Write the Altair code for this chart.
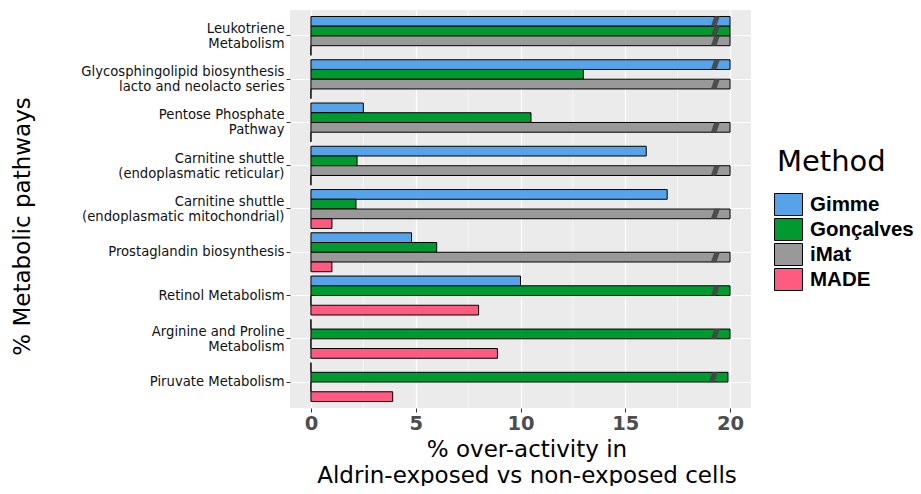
import altair as alt
import pandas as pd

pathways = [
    "Leukotriene|Metabolism",
    "Glycosphingolipid biosynthesis|lacto and neolacto series",
    "Pentose Phosphate|Pathway",
    "Carnitine shuttle|(endoplasmatic reticular)",
    "Carnitine shuttle|(endoplasmatic mitochondrial)",
    "Prostaglandin biosynthesis",
    "Retinol Metabolism",
    "Arginine and Proline|Metabolism",
    "Piruvate Metabolism",
]
methods = ["Gimme", "Gonçalves", "iMat", "MADE"]
colors = ["#56a3e9", "#009a31", "#999999", "#ff5a80"]

gimme = [20, 20, 2.5, 16, 17, 4.8, 10, 0, 0]
goncalves = [20, 13, 10.5, 2.2, 2.15, 6, 20, 20, 19.9]
imat = [20, 20, 20, 20, 20, 20, 0, 0, 0]
made = [0, 0, 0, 0, 1, 1, 8, 8.9, 3.9]

x_ticks = [0, 5, 10, 15, 20]
x_minor = [2.5, 7.5, 12.5, 17.5]

rows = []
for m, vals in zip(methods, [gimme, goncalves, imat, made]):
    for p, v in zip(pathways, vals):
        rows.append({"pathway": p, "method": m, "value": v})
df = pd.DataFrame(rows)
minor_df = pd.DataFrame({"m": x_minor})

xscale = alt.Scale(domain=[-1, 21], nice=False, zero=False)
xtitle = ["% over-activity in", "Aldrin-exposed vs non-exposed cells"]

minor = alt.Chart(minor_df).mark_rule(color="white", strokeWidth=0.6).encode(
    x=alt.X("m:Q", scale=xscale, title=xtitle)
)

yenc = alt.Y(
    "pathway:N",
    sort=pathways,
    scale=alt.Scale(paddingInner=0.1, paddingOuter=0.15),
    axis=alt.Axis(
        title="% Metabolic pathways",
        labelExpr="split(datum.label, '|')",
        labelFont="DejaVu Sans",
        labelFontSize=13.2,
        labelLineHeight=15,
        labelColor="#111111",
        labelLimit=400,
        labelPadding=2,
        labelOffset={
            "condition": {"test": "indexof(datum.value, '|') >= 0", "value": -7},
            "value": 0,
        },
        tickColor="#333333",
        tickSize=4,
        domain=False,
        grid=True,
        gridColor="white",
        gridWidth=1.2,
        bandPosition=0.5,
        titleFont="DejaVu Sans",
        titleFontSize=23,
        titleFontWeight="normal",
        titleColor="black",
        titleAngle=270,
        titleBaseline="alphabetic",
        titleX=-261,
        titleY=216,
    ),
)
yoff = alt.YOffset("method:N", sort=methods, scale=alt.Scale(paddingInner=0, paddingOuter=0))

xenc = alt.X(
    "value:Q",
    scale=xscale,
    axis=alt.Axis(
        values=x_ticks,
        title=xtitle,
        labelFont="DejaVu Sans",
        labelFontSize=19.5,
        labelFontWeight="bold",
        labelColor="#4d4d4d",
        labelPadding=2,
        tickColor="#333333",
        tickSize=4,
        domain=False,
        grid=True,
        gridColor="white",
        gridWidth=1.2,
        titleFont="DejaVu Sans",
        titleFontSize=23,
        titleFontWeight="normal",
        titleColor="black",
        titleLineHeight=26,
        titleBaseline="alphabetic",
        titleX=236.5,
        titleY=48,
    ),
)

bars = alt.Chart(df).mark_bar(stroke="black", strokeWidth=1).encode(
    x=xenc,
    x2=alt.datum(0),
    y=yenc,
    yOffset=yoff,
    fill=alt.Fill(
        "method:N",
        sort=methods,
        scale=alt.Scale(domain=methods, range=colors),
        legend=alt.Legend(
            title="Method",
            orient="none",
            legendX=487,
            legendY=138,
            padding=0,
            titleFont="DejaVu Sans",
            titleFontSize=29,
            titleFontWeight="normal",
            titleColor="black",
            titlePadding=16,
            labelFont="Liberation Sans",
            labelFontSize=20.5,
            labelFontWeight="bold",
            labelColor="black",
            labelOffset=10,
            rowPadding=-3,
            symbolType="M-1.27,-1L1.27,-1L1.27,1L-1.27,1Z",
            symbolSize=484,
            symbolStrokeColor="black",
            symbolStrokeWidth=1,
        ),
    ),
)

hatch = (
    alt.Chart(df)
    .transform_filter("datum.value >= 19.5")
    .transform_calculate(hx="datum.value - 0.7")
    .mark_point(
        shape="M-0.9,1L0.2,1L0.9,-1L-0.2,-1Z",
        filled=True,
        fill="#454545",
        opacity=0.9,
        size=100,
        strokeWidth=0,
    )
    .encode(
        x=alt.X("hx:Q", scale=xscale),
        y=alt.Y("pathway:N", sort=pathways),
        yOffset=yoff,
    )
)

chart = (
    alt.layer(minor, bars, hatch)
    .properties(
        width=461,
        height=398,
        autosize=alt.AutoSizeParams(type="none"),
        padding={"left": 282, "top": 2, "right": 162, "bottom": 78},
    )
    .configure_view(fill="#ebebeb", strokeWidth=0)
)

chart.save("out.html", embed_options={"renderer": "svg", "actions": False})
